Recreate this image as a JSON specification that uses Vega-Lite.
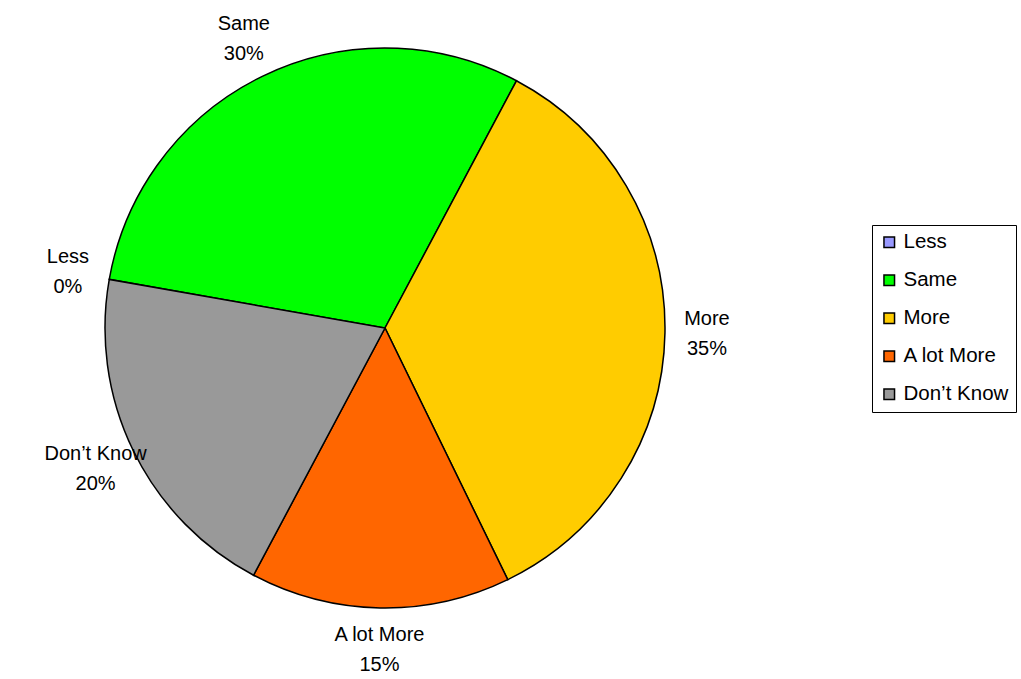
{
  "$schema": "https://vega.github.io/schema/vega-lite/v6.json",
  "width": 770,
  "height": 656,
  "autosize": {"type": "none"},
  "padding": {"left": 0, "top": 0, "right": 251, "bottom": 23},
  "background": "white",
  "config": {"view": {"stroke": null}, "font": "Liberation Sans"},
  "data": {
    "values": [
      {"cat": "Less", "value": 0.0, "ord": 1},
      {"cat": "Same", "value": 0.30, "ord": 2},
      {"cat": "More", "value": 0.35, "ord": 3},
      {"cat": "A lot More", "value": 0.15, "ord": 4},
      {"cat": "Don’t Know", "value": 0.20, "ord": 5}
    ]
  },
  "encoding": {
    "theta": {"field": "value", "type": "quantitative", "stack": true, "scale": {"range": [4.887, 11.170]}},
    "order": {"field": "ord", "type": "quantitative"}
  },
  "layer": [
    {
      "mark": {"type": "arc", "outerRadius": 280, "stroke": "black", "strokeWidth": 1.5},
      "encoding": {
        "color": {
          "field": "cat",
          "type": "nominal",
          "scale": {
            "domain": ["Less", "Same", "More", "A lot More", "Don’t Know"],
            "range": ["#9999FF", "#00FF00", "#FFCC00", "#FF6600", "#999999"]
          },
          "legend": {
            "title": null,
            "orient": "none",
            "legendX": 872,
            "legendY": 225,
            "symbolType": "square",
            "symbolSize": 112,
            "symbolStrokeColor": "black",
            "symbolStrokeWidth": 1.5,
            "symbolOpacity": 1,
            "labelFontSize": 20.5,
            "labelFont": "Liberation Sans",
            "labelColor": "black",
            "labelOffset": 4,
            "rowPadding": 17,
            "padding": 7,
            "strokeColor": "black",
            "fillColor": "white",
            "cornerRadius": 0
          }
        }
      }
    },
    {
      "mark": {"type": "text", "radius": 322, "fontSize": 20, "dy": -15, "font": "Liberation Sans", "color": "black"},
      "encoding": {"text": {"field": "cat", "type": "nominal"}}
    },
    {
      "mark": {"type": "text", "radius": 322, "fontSize": 20, "dy": 15, "font": "Liberation Sans", "color": "black"},
      "encoding": {"text": {"field": "value", "type": "quantitative", "format": ".0%"}}
    }
  ]
}
